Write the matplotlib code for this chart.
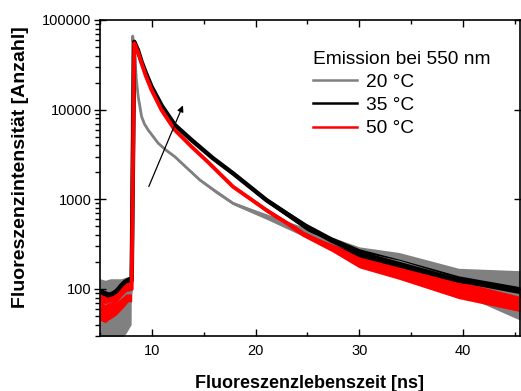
import matplotlib
matplotlib.use("Agg")
import matplotlib.pyplot as plt
from matplotlib.ticker import FixedLocator, LogLocator, NullFormatter, FixedFormatter

plt.rcParams['font.family'] = ['Liberation Sans', 'DejaVu Sans']

# ---- data ----
gray_t  = [5.0, 5.5, 6.0, 6.5, 7.0, 7.5, 8.0, 8.15, 8.37, 8.51, 8.68, 9.01, 9.28, 9.64, 10.61, 11.35, 12.21, 13.37, 14.62, 16.15, 17.82, 21.03, 24.23, 30.0, 33.85, 39.6, 45.5]
gray_c  = [70, 65, 68, 72, 80, 90, 90, 66000, 35800, 21400, 13960, 8360, 6920, 5930, 4220, 3550, 2990, 2240, 1645, 1230, 904, 640, 455, 250, 200, 126, 85]
gray_lo = [28, 28, 28, 28, 28, 32, 40, 64000, 34800, 20800, 13500, 8100, 6700, 5750, 4100, 3420, 2900, 2170, 1590, 1170, 870, 600, 405, 210, 160, 90, 45]
gray_hi = [130, 125, 130, 130, 130, 135, 140, 68000, 36800, 22000, 14400, 8600, 7150, 6100, 4350, 3650, 3080, 2310, 1700, 1270, 940, 690, 510, 295, 255, 170, 160]

black_t  = [5.0, 5.5, 5.8, 6.2, 6.6, 7.0, 7.4, 7.7, 8.05, 8.3, 8.65, 9.01, 9.42, 9.97, 10.96, 12.21, 13.82, 15.89, 17.82, 21.03, 24.88, 27.4, 30.0, 33.85, 39.6, 45.5]
black_c  = [93, 88, 85, 88, 95, 108, 120, 125, 125, 57000, 46200, 34000, 25600, 18000, 11000, 6740, 4590, 2870, 1950, 984, 495, 343, 251, 190, 125, 93]
black_lo = [85, 80, 78, 80, 87, 99, 110, 114, 114, 55000, 44500, 32800, 24700, 17300, 10600, 6500, 4420, 2760, 1870, 930, 455, 310, 224, 168, 108, 80]
black_hi = [102, 96, 93, 96, 104, 118, 131, 137, 137, 59000, 48000, 35200, 26500, 18700, 11400, 7000, 4760, 2980, 2030, 1040, 540, 378, 281, 215, 140, 106]

red_t  = [5.0, 5.5, 5.8, 6.2, 6.6, 7.0, 7.4, 7.7, 8.05, 8.3, 8.65, 9.01, 9.42, 9.97, 10.93, 12.21, 13.82, 15.41, 17.82, 21.03, 24.55, 27.4, 30.0, 33.85, 39.6, 45.5]
red_c  = [70, 62, 65, 68, 75, 85, 95, 100, 100, 55000, 44000, 32900, 23700, 16550, 9900, 5930, 3866, 2600, 1384, 760, 418, 290, 200, 151, 98, 76]
red_lo = [45, 42, 45, 48, 52, 58, 65, 72, 72, 53500, 42600, 32000, 23000, 16100, 9600, 5750, 3750, 2520, 1330, 720, 385, 260, 172, 128, 78, 56]
red_hi = [95, 88, 92, 95, 100, 110, 118, 125, 125, 56500, 45400, 33800, 24400, 17000, 10200, 6100, 3980, 2680, 1440, 800, 450, 322, 228, 175, 118, 98]

labels = ["20 °C", "35 °C", "50 °C"]
colors = ["#808080", "#000000", "#ff0000"]
legend_title = "Emission bei 550 nm"

x_ticks = [10, 20, 30, 40]
x_minor = [5, 15, 25, 35, 45]
y_ticks = [100, 1000, 10000, 100000]
y_ticklabels = ["100", "1000", "10000", "100000"]

arrow_start = (9.6, 1300)
arrow_end = (13.1, 11900)

# ---- figure ----
fig = plt.figure(figsize=(5.21, 3.91), dpi=100)
ax = fig.add_axes([0.192, 0.141, 0.806, 0.808])

series = [(gray_t, gray_c, gray_lo, gray_hi, 2.0),
          (black_t, black_c, black_lo, black_hi, 3.2),
          (red_t, red_c, red_lo, red_hi, 2.8)]
for (t, c, lo, hi, lw), col, lab in zip(series, colors, labels):
    ax.fill_between(t, lo, hi, color=col, linewidth=0)
    ax.plot(t, c, color=col, lw=lw, solid_joinstyle='round')
    ax.plot([], [], color=col, lw=1.8, label=lab)

ax.set_yscale('log')
ax.set_xlim(5.0, 45.5)
ax.set_ylim(30, 100000)

ax.xaxis.set_major_locator(FixedLocator(x_ticks))
ax.xaxis.set_minor_locator(FixedLocator(x_minor))
ax.yaxis.set_major_locator(FixedLocator(y_ticks))
ax.yaxis.set_major_formatter(FixedFormatter(y_ticklabels))
ax.yaxis.set_minor_locator(LogLocator(base=10, subs=range(2, 10)))
ax.yaxis.set_minor_formatter(NullFormatter())

ax.tick_params(axis='x', which='major', direction='in', length=5, width=1, top=True, labelsize=10.5, pad=6)
ax.tick_params(axis='x', which='minor', direction='in', length=3, width=1, top=True)
ax.tick_params(axis='y', which='major', direction='inout', length=8, width=1, right=True, labelsize=10.5, pad=2)
ax.tick_params(axis='y', which='minor', direction='out', length=3.5, width=1)
for s in ax.spines.values():
    s.set_linewidth(1.2)

ax.set_xlabel("Fluoreszenzlebenszeit [ns]", fontsize=13, fontweight='bold', labelpad=12)
ax.set_ylabel("Fluoreszenzintensität [Anzahl]", fontsize=14, fontweight='bold')
ax.yaxis.set_label_coords(-0.17, 0.535)

ax.annotate("", xy=arrow_end, xytext=arrow_start,
            arrowprops=dict(arrowstyle='-|>', color='black', lw=0.9, mutation_scale=9))

leg = ax.legend(title=legend_title, loc='upper left', bbox_to_anchor=(0.476, 0.945),
                frameon=False, fontsize=13.8, title_fontsize=13.8, alignment='left',
                handlelength=2.3, handletextpad=0.45, labelspacing=0.3, borderpad=0.2)

fig.savefig("out.png", dpi=100)
